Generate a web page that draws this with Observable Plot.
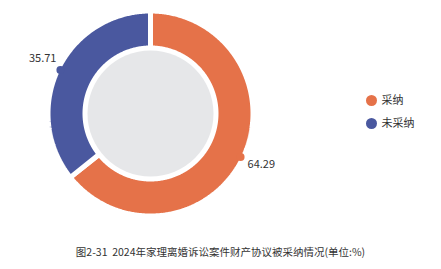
<!DOCTYPE html>
<html><head><meta charset="utf-8">
<script src="https://cdn.jsdelivr.net/npm/d3@7"></script>
<script src="https://cdn.jsdelivr.net/npm/@observablehq/plot@0.6"></script>
<style>
body{margin:0;background:#fff;font-family:"Noto Sans CJK SC","Noto Sans",sans-serif;}
#cap{width:441px;text-align:center;font-size:10.5px;color:#333;line-height:16px;margin-top:0;}
svg{display:block}
</style></head><body>
<div id="chart"></div>
<div id="cap">图2-31&nbsp; 2024年家理离婚诉讼案件财产协议被采纳情况(单位:%)</div>
<script>
const categories = ["采纳", "未采纳"];
const values = [64.29, 35.71];
const labels = ["64.29", "35.71"];
const colors = ["#E57249", "#4A589F"];

const pie = d3.pie().sort(null).value(d => d.value)(categories.map((c, i) => ({name: c, value: values[i], label: labels[i]})));
const rOut = 1.025, rIn = 0.655;
const pts = [];
pie.forEach(s => {
  const n = Math.max(2, Math.ceil((s.endAngle - s.startAngle) / 0.01));
  for (let k = 0; k <= n; k++) { const a = s.startAngle + (s.endAngle - s.startAngle) * k / n; pts.push({name: s.data.name, x: rOut * Math.sin(a), y: -rOut * Math.cos(a)}); }
  for (let k = n; k >= 0; k--) { const a = s.startAngle + (s.endAngle - s.startAngle) * k / n; pts.push({name: s.data.name, x: rIn * Math.sin(a), y: -rIn * Math.cos(a)}); }
});
const mids = pie.map(s => { const a = (s.startAngle + s.endAngle) / 2; return {name: s.data.name, label: s.data.label, x: Math.sin(a), y: -Math.cos(a)}; });
const legend = categories.map((c, i) => ({name: c, x: 2.21, y: -0.13 + i * 0.23}));

const chart = Plot.plot({
  width: 441, height: 244, margin: 0,
  x: {domain: [-1.5, 2.91], range: [0, 441], axis: null},
  y: {domain: [-1.13, 1.31], range: [0, 244], axis: null},
  color: {domain: categories, range: colors},
  style: {fontFamily: '"Noto Sans CJK SC","Noto Sans",sans-serif', background: "#fff"},
  marks: [
    Plot.line(pts, {x: "x", y: "y", z: "name", fill: "name", stroke: "white", strokeWidth: 5, curve: "linear-closed", strokeLinejoin: "miter"}),
    Plot.dot([{x: 0, y: 0}], {x: "x", y: "y", r: 63, fill: "#E6E7E9", stroke: null}),
    Plot.dot(mids, {x: "x", y: "y", r: 4, fill: "name"}),
    Plot.text(mids.filter(d => d.x > 0), {x: "x", y: "y", text: "label", textAnchor: "start", dx: 7, dy: 8, fontSize: 11, fill: "#333"}),
    Plot.text(mids.filter(d => d.x <= 0), {x: "x", y: "y", text: "label", textAnchor: "end", dx: -4, dy: -12, fontSize: 11, fill: "#333"}),
    Plot.dot(legend, {x: "x", y: "y", r: 5.5, fill: "name"}),
    Plot.text(legend, {x: "x", y: "y", text: "name", textAnchor: "start", dx: 10, fontSize: 11, fill: "#333"})
  ]
});
document.getElementById("chart").appendChild(chart);
</script>
</body></html>
